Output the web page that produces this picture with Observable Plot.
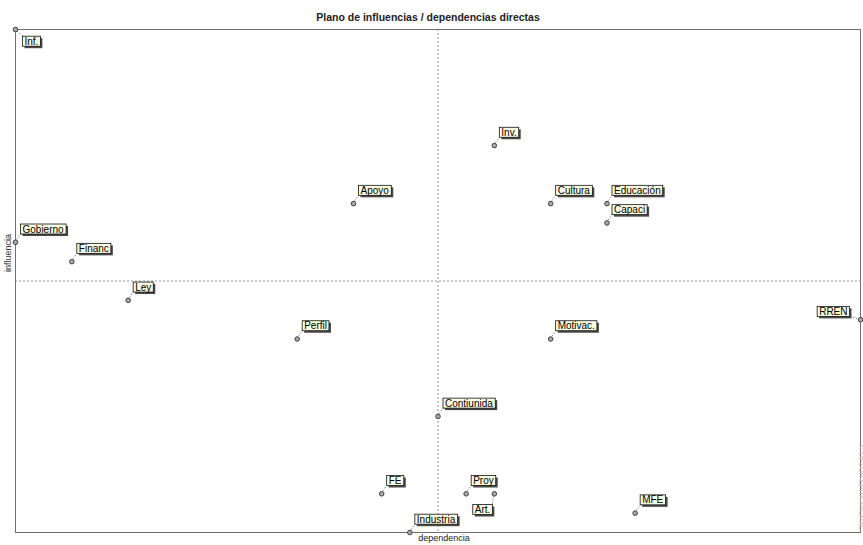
<!DOCTYPE html>
<html><head><meta charset="utf-8">
<script src="https://cdn.jsdelivr.net/npm/d3@7"></script>
<script src="https://cdn.jsdelivr.net/npm/@observablehq/plot@0.6"></script>
<style>body{margin:0;background:#fff} svg{display:block}</style>
</head><body><div id="chart"></div><div id="err" style="position:absolute;left:40px;top:60px;font:10px sans-serif;color:red"></div>
<script>
// --- data ---
const variables   = ["Inf.","Gobierno","Financ","Ley","Apoyo","Perfil","Inv.","Cultura","Educación","Capaci","Motivac.","Contiunida","RREN","FE","Proy","Art.","MFE","Industria"];
const dependencia = [2, 2, 4, 6, 14, 12, 19, 21, 23, 23, 21, 17, 32, 15, 18, 19, 24, 16];
const influencia  = [26, 15, 14, 12, 17, 10, 20, 17, 17, 16, 10, 6, 11, 2, 2, 2, 1, 0];
const titleText = "Plano de influencias / dependencias directas";
const xLabel = "dependencia";
const yLabel = "influencia";
const credit = "© LIPSOR-EPITA-MICMAC";

// label placement (style, kept apart from the values)
const labelSide = {"Inf.": "se", "RREN": "w", "Art.": "sw"};

const data = variables.map((name, i) => ({name, dep: dependencia[i], inf: influencia[i], side: labelSide[name] || "ne"}));
const midDep = (d3.min(dependencia) + d3.max(dependencia)) / 2;
const midInf = (d3.min(influencia) + d3.max(influencia)) / 2;

const font = "Liberation Sans, Arial, sans-serif";
const sides = {
  ne: {textAnchor: "start", dx: 7,   dy: -13},
  se: {textAnchor: "start", dx: 9,   dy: 12},
  w:  {textAnchor: "end",   dx: -13, dy: -8},
  sw: {textAnchor: "end",   dx: -4,  dy: 16}
};
const sideKeys = Object.keys(sides);
const labelMarks = sideKeys.map(k => {
  const o = sides[k];
  return Plot.text(data.filter(d => d.side === k), {x: "dep", y: "inf", text: "name",
    textAnchor: o.textAnchor, lineAnchor: "middle", dx: o.dx, dy: o.dy,
    fontSize: 10, fill: "#000"});
});

const plot = Plot.plot({
  width: 863, height: 545,
  marginLeft: 15, marginRight: 3, marginTop: 29, marginBottom: 13,
  x: {domain: [d3.min(dependencia), d3.max(dependencia)], axis: null},
  y: {domain: [d3.min(influencia), d3.max(influencia)], axis: null},
  style: {fontFamily: font, background: "#fff", overflow: "visible"},
  marks: [
    Plot.ruleX([midDep], {stroke: "#8a8a8a", strokeWidth: 0.9, strokeDasharray: "2,2"}),
    Plot.ruleY([midInf], {stroke: "#8a8a8a", strokeWidth: 0.9, strokeDasharray: "2,2"}),
    Plot.frame({stroke: "#707070", strokeWidth: 1}),
    Plot.dot(data, {x: "dep", y: "inf", r: 2.3, fill: "#a8a8a8", stroke: "#404040", strokeWidth: 1}),
    ...labelMarks,
    Plot.text([titleText], {frameAnchor: "top", dy: -16, dx: -10, fontSize: 10.5, fontWeight: "bold", fill: "#222"}),
    Plot.text([yLabel], {frameAnchor: "left", rotate: -90, dx: -7, dy: -9, fontSize: 9, fill: "#333"}),
    Plot.text([xLabel], {frameAnchor: "bottom", dy: 8, dx: 6, fontSize: 9, fill: "#222"}),
    Plot.text([credit], {frameAnchor: "bottom-right", rotate: 90, textAnchor: "end", dx: -2, dy: -2, fontSize: 7, fill: "#c4c4c4"})
  ]
});
document.getElementById("chart").append(plot);

try {
  const NS = "http://www.w3.org/2000/svg";
  const sx = plot.scale("x"), sy = plot.scale("y");
  const X = v => sx.apply ? sx.apply(v) : d3.scaleLinear(sx.domain, sx.range)(v);
  const Y = v => sy.apply ? sy.apply(v) : d3.scaleLinear(sy.domain, sy.range)(v);
  const svgBox = plot.getBoundingClientRect();
  const groups = Array.from(plot.children).filter(el => el.tagName.toLowerCase() === "g" && el.getAttribute("aria-label") === "text");
  const dotG = Array.from(plot.children).find(el => el.getAttribute && el.getAttribute("aria-label") === "dot");
  const deco = document.createElementNS(NS, "g");
  plot.insertBefore(deco, dotG);
  const deco2 = document.createElementNS(NS, "g");
  plot.insertBefore(deco2, groups[0]);
  sideKeys.forEach((k, gi) => {
    const g = groups[gi];
    const subset = data.filter(d => d.side === k);
    g.querySelectorAll("text").forEach((t, i) => {
      const d = subset[i];
      const r = t.getBoundingClientRect();
      const x0 = r.left - svgBox.left - 2, x1 = r.right - svgBox.left + 2;
      const y0 = r.top - svgBox.top + 0.5, y1 = r.bottom - svgBox.top - 0.5;
      const px = X(d.dep), py = Y(d.inf);
      const cx = px < x0 ? x0 : x1, cy = py > y1 ? y1 : y0;
      const line = document.createElementNS(NS, "line");
      line.setAttribute("x1", px); line.setAttribute("y1", py);
      line.setAttribute("x2", cx); line.setAttribute("y2", cy);
      line.setAttribute("stroke", "#888"); line.setAttribute("stroke-dasharray", "1.5,1.5");
      deco.append(line);
      const sh = document.createElementNS(NS, "rect");
      sh.setAttribute("x", x0 + 2); sh.setAttribute("y", y0 + 2);
      sh.setAttribute("width", x1 - x0); sh.setAttribute("height", y1 - y0);
      sh.setAttribute("fill", "#4a4a4a");
      deco2.append(sh);
      const bx = document.createElementNS(NS, "rect");
      bx.setAttribute("x", x0); bx.setAttribute("y", y0);
      bx.setAttribute("width", x1 - x0); bx.setAttribute("height", y1 - y0);
      bx.setAttribute("fill", "#fbfbe2"); bx.setAttribute("stroke", "#111"); bx.setAttribute("stroke-width", 0.8);
      deco2.append(bx);
    });
  });
} catch (e) {
  document.getElementById("err").textContent = String(e && e.stack || e);
}
</script>
</body></html>
